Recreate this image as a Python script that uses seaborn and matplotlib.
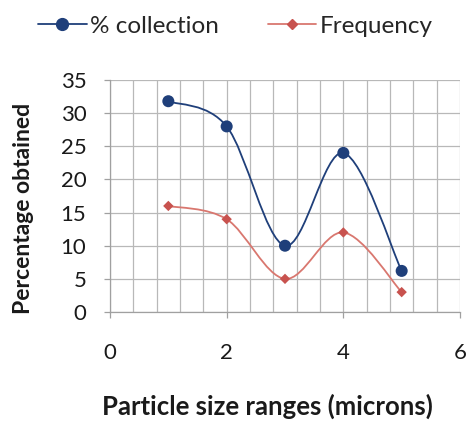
import numpy as np
import pandas as pd
import matplotlib
matplotlib.use("Agg")
import matplotlib.pyplot as plt
from matplotlib.path import Path
from matplotlib.patches import PathPatch
from matplotlib.lines import Line2D
import seaborn as sns

sizes = [1, 2, 3, 4, 5]
pct_collection = [31.8, 28, 10, 24, 6.2]
frequency = [16, 14, 5, 12, 3]
series_names = ["% collection", "Frequency"]
x_ticks = [0, 2, 4, 6]
y_ticks = [0, 5, 10, 15, 20, 25, 30, 35]

sns.set_theme(style="white")
plt.rcParams["font.family"] = ["Lato", "DejaVu Sans"]

fig = plt.figure(figsize=(4.71, 4.21), dpi=100)
ax = fig.add_axes([110/471, 1-312/421, 350/471, 232/421])

blue = "#1F3F7A"
red_line = "#D9776F"
red_mk = "#C8524E"
txt = "#1a1a1a"

def smooth_path(xs, ys):
    pts = np.column_stack([xs, ys]).astype(float)
    n = len(pts)
    verts = [tuple(pts[0])]
    codes = [Path.MOVETO]
    for i in range(n - 1):
        p0 = pts[i - 1] if i > 0 else pts[i]
        p1 = pts[i]
        p2 = pts[i + 1]
        p3 = pts[i + 2] if i + 2 < n else pts[i + 1]
        c1 = p1 + (p2 - p0) / 6.0
        c2 = p2 - (p3 - p1) / 6.0
        verts += [tuple(c1), tuple(c2), tuple(p2)]
        codes += [Path.CURVE4] * 3
    return Path(verts, codes)

df_c = pd.DataFrame({"size": sizes, "value": pct_collection})
df_f = pd.DataFrame({"size": sizes, "value": frequency})

ax.add_patch(PathPatch(smooth_path(sizes, pct_collection), fill=False, edgecolor=blue, lw=1.3, zorder=3))
ax.add_patch(PathPatch(smooth_path(sizes, frequency), fill=False, edgecolor=red_line, lw=1.3, zorder=3))

sns.scatterplot(data=df_c, x="size", y="value", marker="o", color=blue, s=75,
                edgecolor="none", legend=False, ax=ax, zorder=4)
sns.scatterplot(data=df_f, x="size", y="value", marker="D", color=red_mk, s=28,
                edgecolor="none", legend=False, ax=ax, zorder=4)

ax.set_xlim(0, 6)
ax.set_ylim(0, 35)
ax.set_xticks(np.arange(0, 6.01, 0.4), minor=True)
ax.set_xticks(x_ticks)
ax.set_yticks(y_ticks)
ax.grid(True, which="both", axis="x", color="#B8B8B8", lw=0.9)
ax.grid(True, which="major", axis="y", color="#B8B8B8", lw=0.9)
ax.set_axisbelow(True)
for s in ["top", "right"]:
    ax.spines[s].set_visible(False)
for s in ["left", "bottom"]:
    ax.spines[s].set_color("#A0A0A0")
    ax.spines[s].set_linewidth(0.9)
ax.tick_params(axis="x", which="major", direction="out", length=4, color="#A0A0A0",
               width=0.9, pad=18, labelsize=16, labelcolor=txt, bottom=True)
ax.tick_params(axis="x", which="minor", length=0)
ax.tick_params(axis="y", direction="out", length=4, color="#A0A0A0", width=0.9,
               pad=13, labelsize=16, labelcolor=txt, left=True)
ax.set_xlabel("Particle size ranges (microns)", fontsize=18.5, fontweight="bold", color=txt)
ax.xaxis.set_label_coords((267 - 110) / 350, -82 / 232)
ax.set_ylabel("Percentage obtained", fontsize=16.5, fontweight="bold", color=txt)
ax.yaxis.set_label_coords(-76/350, (312 - 208) / 232)

handles = [Line2D([], [], color=blue, lw=1.3, marker="o", markersize=8.5),
           Line2D([], [], color=red_line, lw=1.3, marker="D", markersize=5, markerfacecolor=red_mk, markeredgecolor=red_mk)]
fig.legend(handles, series_names, loc="center", bbox_to_anchor=(0.5, 1-26/421), ncol=2,
           frameon=False, fontsize=17.5, handlelength=2.0, columnspacing=2.0, handletextpad=0.15)

fig.savefig("out.png", dpi=100)
